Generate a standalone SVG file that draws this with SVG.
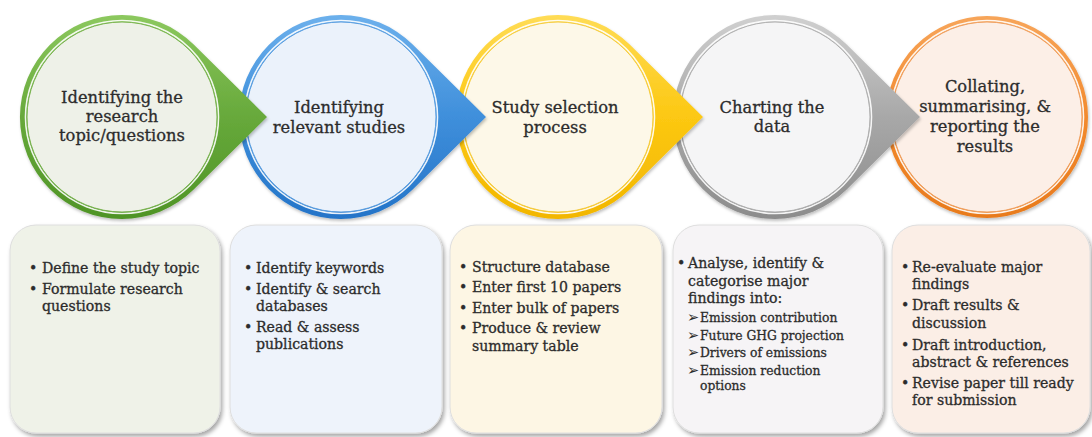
<svg xmlns="http://www.w3.org/2000/svg" width="1092" height="437" viewBox="0 0 1092 437">
  <style>
    .t { font-family: "DejaVu Serif", "Liberation Serif", serif; fill: #2c2c2c; stroke: #2c2c2c; stroke-width: 0.3; }
    .head { font-size: 16.3px; text-anchor: middle; }
    .item { font-size: 14.1px; }
    .sub { font-size: 12.3px; }
    .arw { font-family: "DejaVu Sans", sans-serif; font-size: 14.5px; fill: #2c2c2c; }
    .box { stroke: #dedede; stroke-width: 1; filter: url(#shadow); }
    .rim { fill: none; stroke: #ffffff; stroke-width: 1.6; opacity: 0.9; }
  </style>
  <defs>
    <filter id="shadow" x="-10%" y="-10%" width="125%" height="125%">
      <feDropShadow dx="2" dy="3" stdDeviation="2.2" flood-color="#000" flood-opacity="0.35"/>
    </filter>
    <filter id="soft" x="-10%" y="-10%" width="125%" height="125%">
      <feDropShadow dx="1" dy="2" stdDeviation="1.5" flood-color="#000" flood-opacity="0.25"/>
    </filter>
    <linearGradient id="gGreen" x1="0" y1="0" x2="0" y2="1">
      <stop offset="0" stop-color="#8cc85e"/>
      <stop offset="0.5" stop-color="#67a93b"/>
      <stop offset="1" stop-color="#4f9426"/>
    </linearGradient>
    <linearGradient id="gBlue" x1="0" y1="0" x2="0" y2="1">
      <stop offset="0" stop-color="#6cb0ec"/>
      <stop offset="0.5" stop-color="#3f8fdb"/>
      <stop offset="1" stop-color="#2474c8"/>
    </linearGradient>
    <linearGradient id="gYellow" x1="0" y1="0" x2="0" y2="1">
      <stop offset="0" stop-color="#ffdc55"/>
      <stop offset="0.5" stop-color="#fcc812"/>
      <stop offset="1" stop-color="#f2b600"/>
    </linearGradient>
    <linearGradient id="gGray" x1="0" y1="0" x2="0" y2="1">
      <stop offset="0" stop-color="#d0d0d0"/>
      <stop offset="0.5" stop-color="#a8a8a8"/>
      <stop offset="1" stop-color="#8c8c8c"/>
    </linearGradient>
    <linearGradient id="gOrange" x1="0" y1="0" x2="0" y2="1">
      <stop offset="0" stop-color="#f7a55a"/>
      <stop offset="0.5" stop-color="#f28a2e"/>
      <stop offset="1" stop-color="#e87a1c"/>
    </linearGradient>
    <!-- circle with a pointer toward the next stage, centred on 0,0 -->
    <path id="drop" d="M145,0 L71.7,-72.5 A102,102 0 1 0 71.7,72.5 Z"/>
  </defs>

  <!-- task boxes -->
  <g id="tasks-1">
    <rect class="box" x="10" y="225" width="210" height="208" rx="26" fill="#eff2e8"/>
    <text class="t item" x="29" y="273">•</text>
    <text class="t item" x="42" y="273">Define the study topic</text>
    <text class="t item" x="29" y="294">•</text>
    <text class="t item" x="42" y="294">Formulate research</text>
    <text class="t item" x="42" y="311">questions</text>
  </g>
  <g id="tasks-2">
    <rect class="box" x="230" y="225" width="212" height="208" rx="26" fill="#eef3fb"/>
    <text class="t item" x="244" y="273">•</text>
    <text class="t item" x="256" y="273">Identify keywords</text>
    <text class="t item" x="244" y="294">•</text>
    <text class="t item" x="256" y="294">Identify &amp; search</text>
    <text class="t item" x="256" y="311">databases</text>
    <text class="t item" x="244" y="332">•</text>
    <text class="t item" x="256" y="332">Read &amp; assess</text>
    <text class="t item" x="256" y="349">publications</text>
  </g>
  <g id="tasks-3">
    <rect class="box" x="450" y="225" width="212" height="208" rx="26" fill="#fdf6e4"/>
    <text class="t item" x="459" y="272">•</text>
    <text class="t item" x="472" y="272">Structure database</text>
    <text class="t item" x="459" y="292">•</text>
    <text class="t item" x="472" y="292">Enter first 10 papers</text>
    <text class="t item" x="459" y="313">•</text>
    <text class="t item" x="472" y="313">Enter bulk of papers</text>
    <text class="t item" x="459" y="333">•</text>
    <text class="t item" x="472" y="333">Produce &amp; review</text>
    <text class="t item" x="472" y="351">summary table</text>
  </g>
  <g id="tasks-4">
    <rect class="box" x="673" y="225" width="210" height="208" rx="26" fill="#f6f4f6"/>
    <text class="t item" x="677" y="268">•</text>
    <text class="t item" x="688" y="268">Analyse, identify &amp;</text>
    <text class="t item" x="688" y="286">categorise major</text>
    <text class="t item" x="688" y="303">findings into:</text>
    <text class="arw" x="687" y="322">➢</text>
    <text class="t sub" x="700" y="322">Emission contribution</text>
    <text class="arw" x="687" y="340">➢</text>
    <text class="t sub" x="700" y="340">Future GHG projection</text>
    <text class="arw" x="687" y="357">➢</text>
    <text class="t sub" x="700" y="357">Drivers of emissions</text>
    <text class="arw" x="687" y="375">➢</text>
    <text class="t sub" x="700" y="375">Emission reduction</text>
    <text class="t sub" x="700" y="390">options</text>
  </g>
  <g id="tasks-5">
    <rect class="box" x="892" y="225" width="198" height="208" rx="26" fill="#fbeee6"/>
    <text class="t item" x="901" y="272">•</text>
    <text class="t item" x="912" y="272">Re-evaluate major</text>
    <text class="t item" x="912" y="289">findings</text>
    <text class="t item" x="901" y="310">•</text>
    <text class="t item" x="912" y="310">Draft results &amp;</text>
    <text class="t item" x="912" y="328">discussion</text>
    <text class="t item" x="901" y="350">•</text>
    <text class="t item" x="912" y="350">Draft introduction,</text>
    <text class="t item" x="912" y="367">abstract &amp; references</text>
    <text class="t item" x="901" y="388">•</text>
    <text class="t item" x="912" y="388">Revise paper till ready</text>
    <text class="t item" x="912" y="405">for submission</text>
  </g>

  <!-- stage circles, drawn last-to-first so each pointer overlaps the next circle -->
  <g id="connectors">
    <g id="stage-5" transform="translate(987,117)">
      <circle r="101" fill="url(#gOrange)" filter="url(#soft)"/>
      <circle r="96.5" class="rim"/>
      <circle r="95" fill="#fcefe7" stroke="#f0a060" stroke-width="1"/>
      <text class="t head" x="-2" y="-25">Collating,</text>
      <text class="t head" x="-2" y="-5">summarising, &amp;</text>
      <text class="t head" x="-2" y="15">reporting the</text>
      <text class="t head" x="-2" y="35">results</text>
    </g>
    <g id="stage-4" transform="translate(775,117)">
      <use href="#drop" fill="url(#gGray)" filter="url(#soft)"/>
      <circle r="96.5" class="rim"/>
      <circle r="95" fill="#f5f5f6" stroke="#b0b0b0" stroke-width="1"/>
      <text class="t head" x="-3" y="-4">Charting the</text>
      <text class="t head" x="-3" y="15">data</text>
    </g>
    <g id="stage-3" transform="translate(558,117)">
      <use href="#drop" fill="url(#gYellow)" filter="url(#soft)"/>
      <circle r="96.5" class="rim"/>
      <circle r="95" fill="#fdf8e8" stroke="#f5cc40" stroke-width="1"/>
      <text class="t head" x="-3" y="-4">Study selection</text>
      <text class="t head" x="-3" y="16">process</text>
    </g>
    <g id="stage-2" transform="translate(341,117)">
      <use href="#drop" fill="url(#gBlue)" filter="url(#soft)"/>
      <circle r="96.5" class="rim"/>
      <circle r="95" fill="#ebf2fb" stroke="#5a9ee0" stroke-width="1"/>
      <text class="t head" x="-2" y="-4">Identifying</text>
      <text class="t head" x="-2" y="16">relevant studies</text>
    </g>
    <g id="stage-1" transform="translate(122,117)">
      <use href="#drop" fill="url(#gGreen)" filter="url(#soft)"/>
      <circle r="96.5" class="rim"/>
      <circle r="95" fill="#eef1e8" stroke="#7ab450" stroke-width="1"/>
      <text class="t head" x="0" y="-14">Identifying the</text>
      <text class="t head" x="0" y="5">research</text>
      <text class="t head" x="0" y="24">topic/questions</text>
    </g>
  </g>
</svg>
